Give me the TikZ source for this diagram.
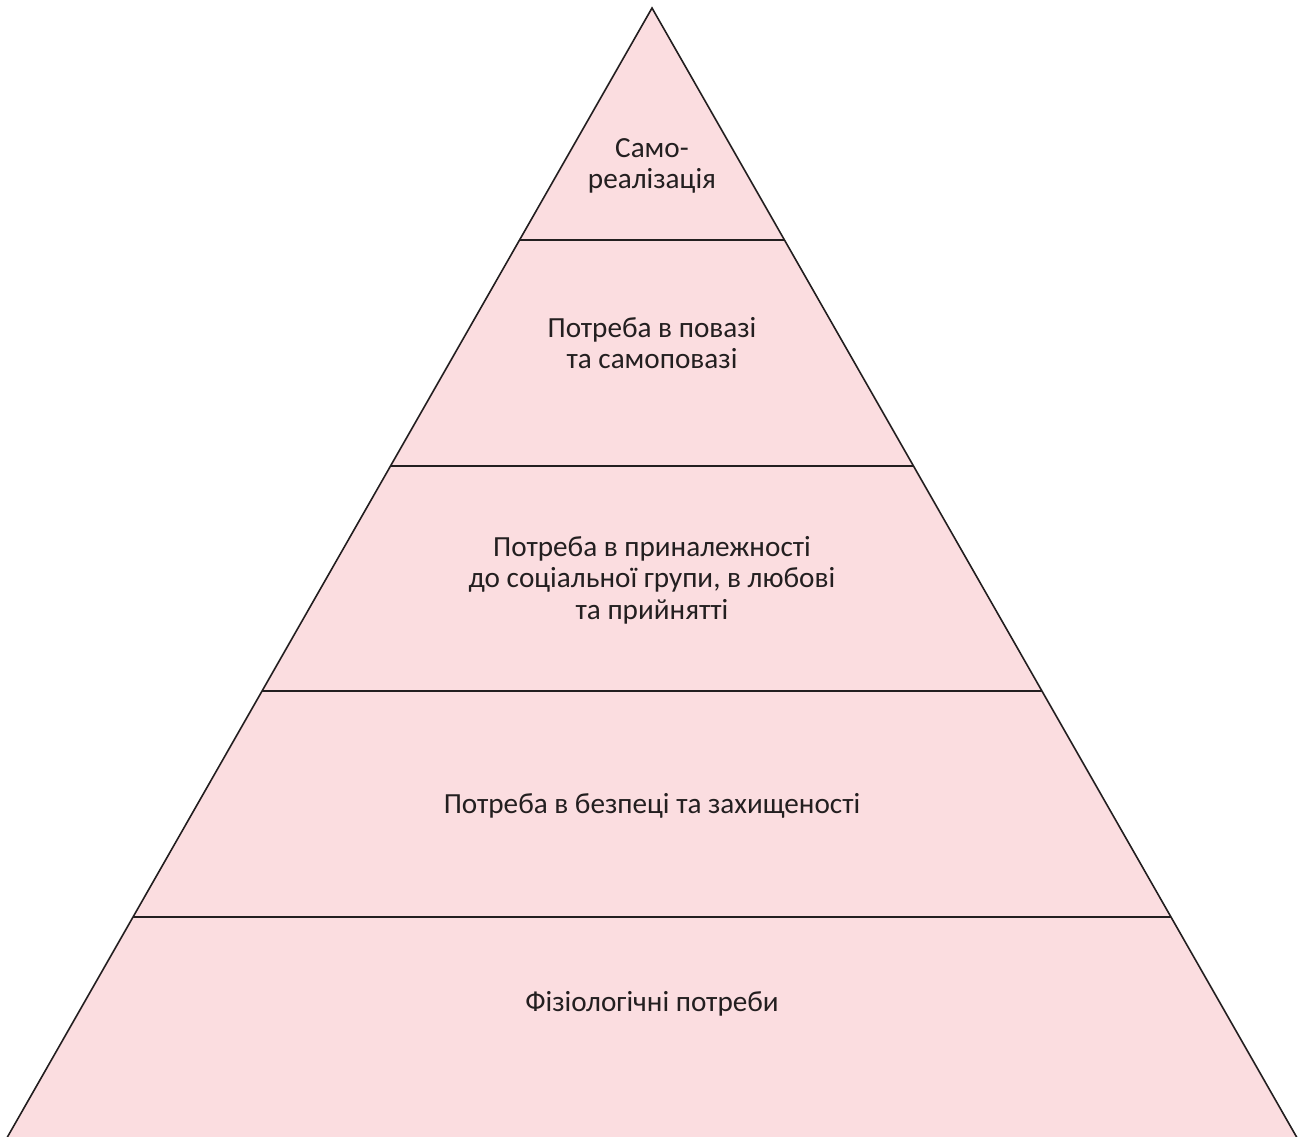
\documentclass[tikz,border=0pt]{standalone}
\usepackage{fontspec}
\setmainfont{Carlito}
\definecolor{pyrfill}{HTML}{FBDDE0}
\definecolor{pyrline}{HTML}{231F20}
\begin{document}
\begin{tikzpicture}[x=1bp,y=-1bp,
  lvl/.style={font=\fontsize{29.3}{31.5}\selectfont, text=pyrline, align=center},
  edge/.style={draw=pyrline, line width=1.6bp}]
\useasboundingbox (0,0) rectangle (1301,1136);
\clip (0,0) rectangle (1301,1136);
\coordinate (apex) at (652,8);
\coordinate (baseL) at (0,1150);
\coordinate (baseR) at (1304,1150);
\fill[pyrfill] (apex) -- (baseL) -- (baseR) -- cycle;
% horizontal dividers
\foreach \y/\n in {240/A,466/B,691/C,917/D}{
  \pgfmathsetmacro{\dx}{0.5709*(\y-8)}
  \coordinate (div\n left) at ({652-\dx},\y);
  \coordinate (div\n right) at ({652+\dx},\y);
  \draw[edge] (div\n left) -- (div\n right);
}
\draw[edge, line join=miter] (baseL) -- (apex) -- (baseR);
\node[lvl] (t1) at (652,166) {Само-\\реалізація};
\node[lvl] (t2) at (652,343) {Потреба в повазі\\та самоповазі};
\node[lvl] (t3) at (652,580) {Потреба в приналежності\\до соціальної групи, в любові\\та прийнятті};
\node[lvl] (t4) at (652,806) {Потреба в безпеці та захищеності};
\node[lvl] (t5) at (652,1004) {Фізіологічні потреби};
\end{tikzpicture}
\end{document}
